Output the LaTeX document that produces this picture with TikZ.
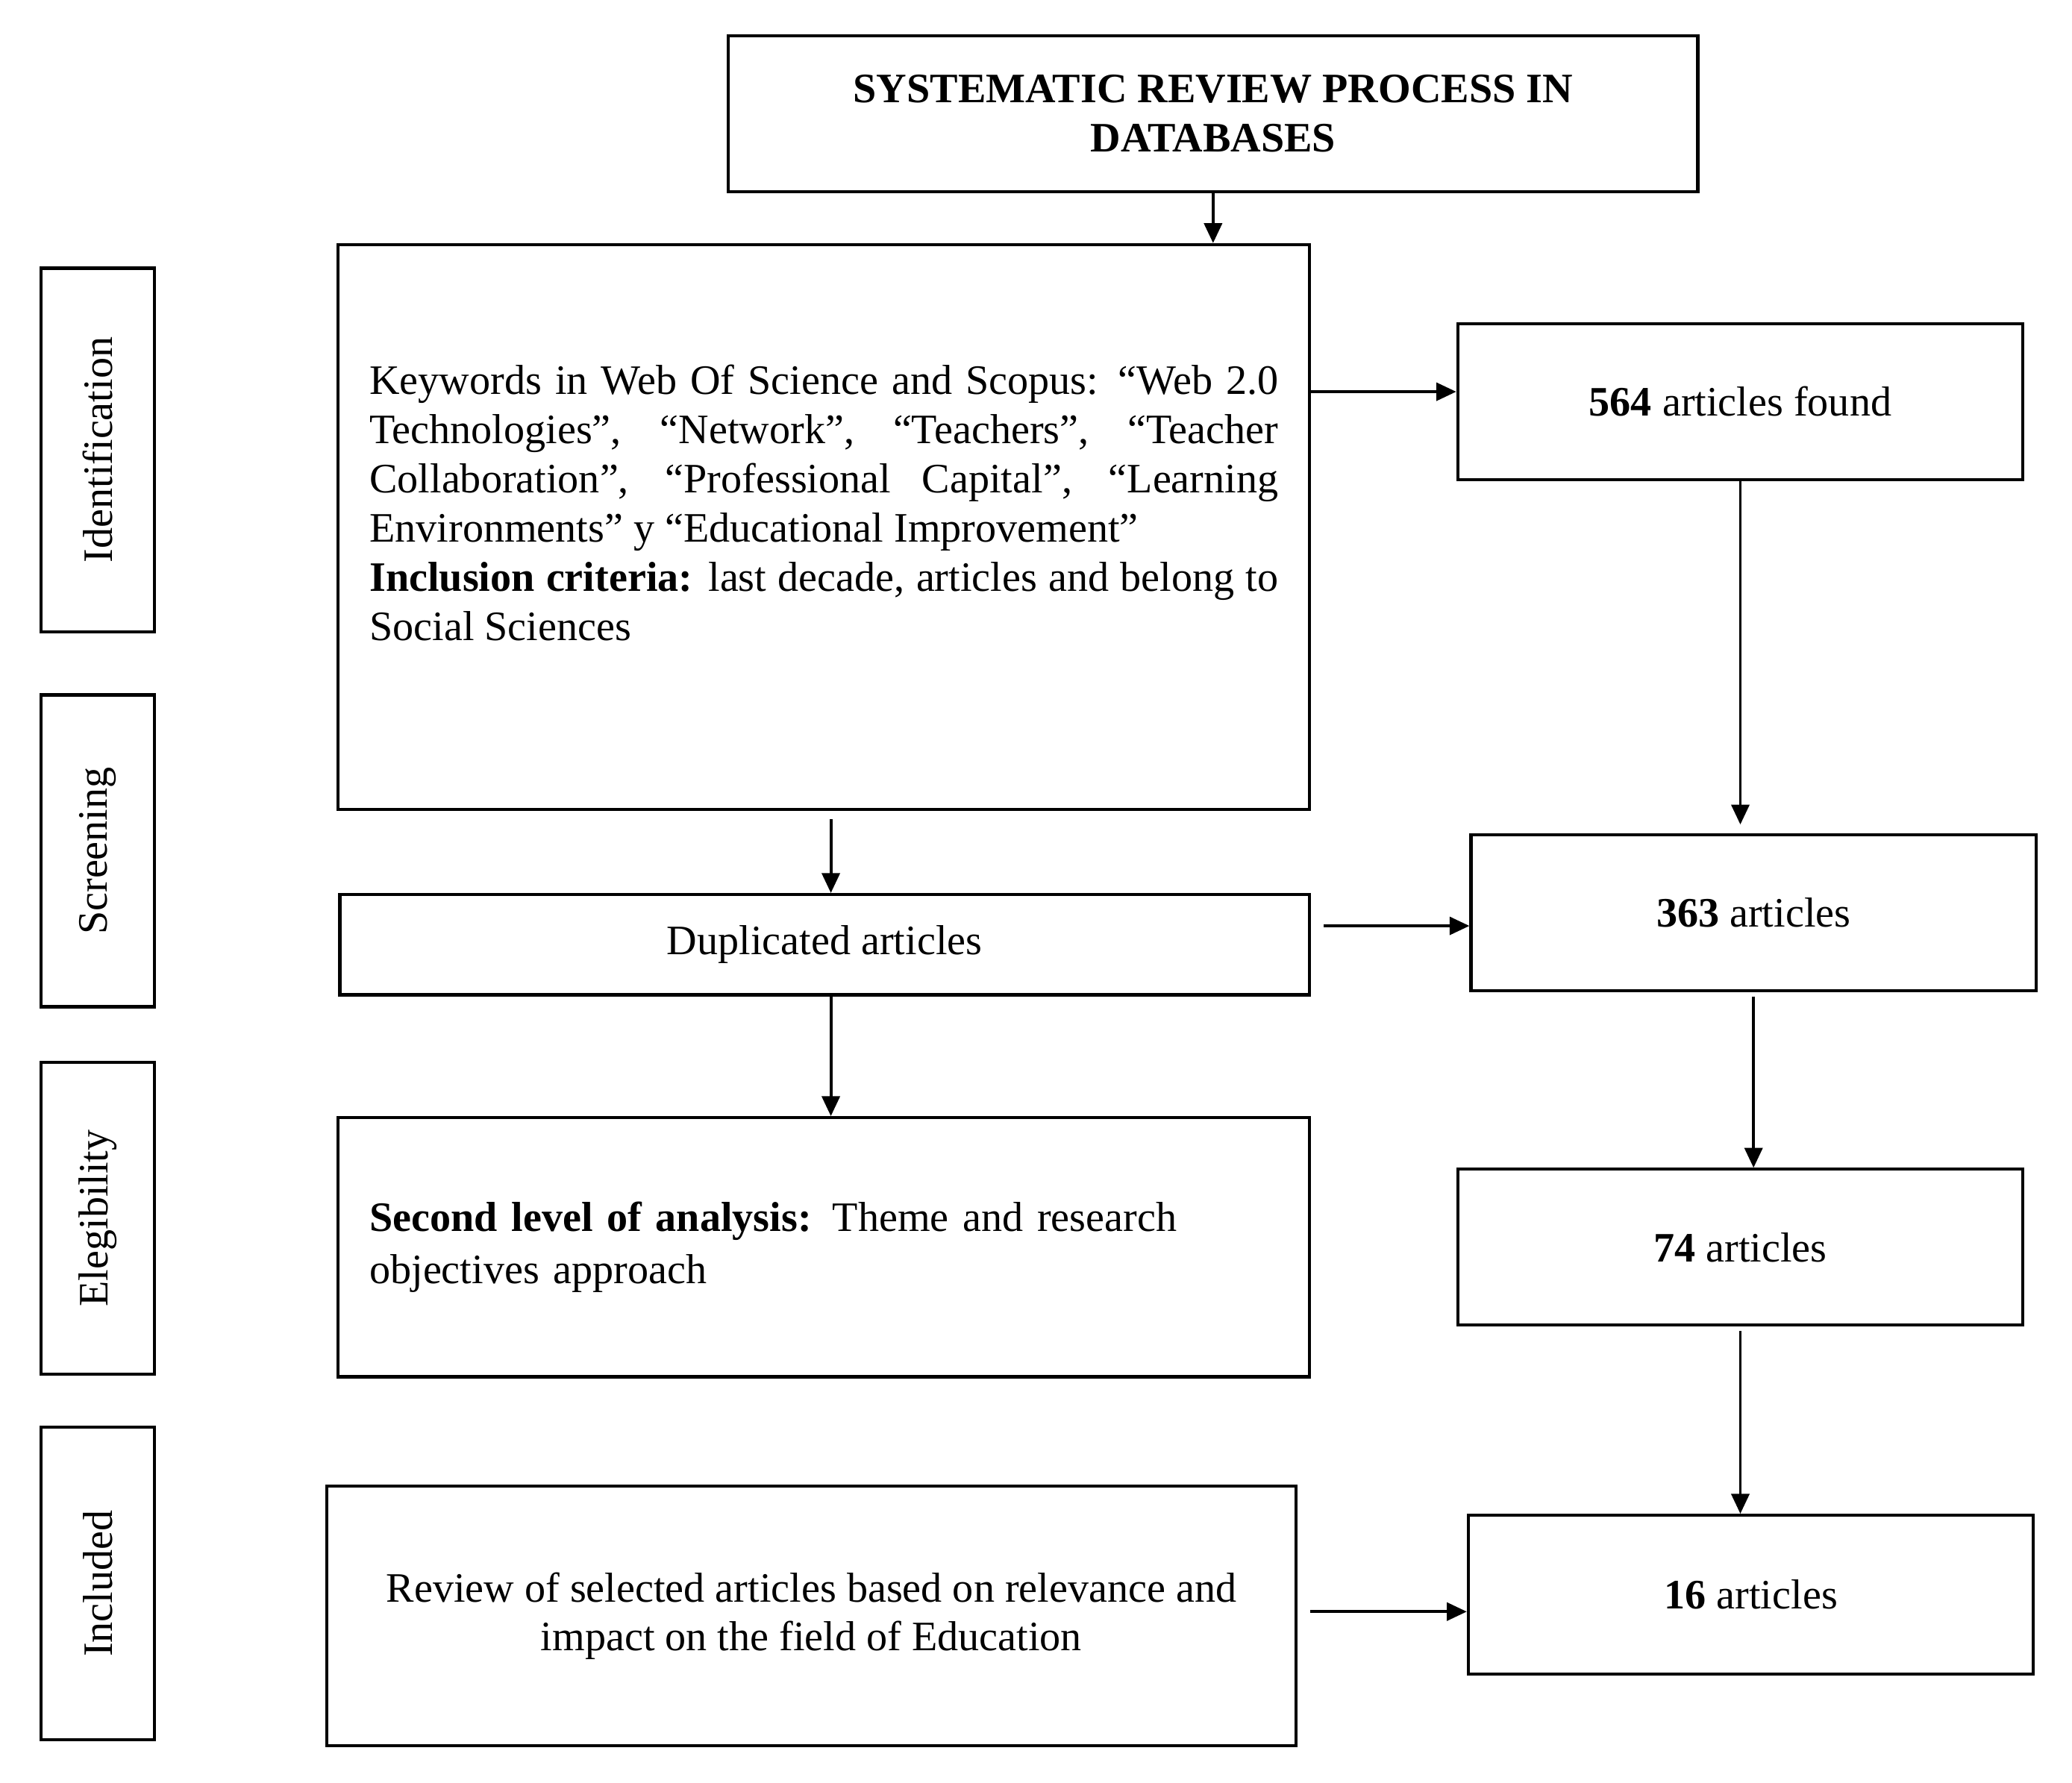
\documentclass[tikz,border=0pt]{standalone}
\usepackage{fontspec}
\setmainfont{Liberation Serif}
\usetikzlibrary{arrows.meta,positioning}
\tikzset{
  blk/.style={draw,rectangle,line width=0.9pt,align=center,font=\fontsize{12}{14}\selectfont},
  cntblk/.style={blk,minimum width=5.69cm,minimum height=1.57cm},
  stageblk/.style={blk,rotate=90,minimum height=1.14cm},
  arr/.style={-{Triangle[length=2mm,width=1.8mm]},line width=0.85pt}
}
\begin{document}
\begin{tikzpicture}[x=0.0133cm,y=-0.0133cm]
  \useasboundingbox (0,0) rectangle (1568,1349);

  \node[blk,minimum width=9.76cm,minimum height=1.57cm,font=\bfseries\fontsize{12}{14}\selectfont] (title) at (918,86) {SYSTEMATIC REVIEW PROCESS IN\\DATABASES};
  \node[blk,minimum width=9.78cm,minimum height=5.69cm,text width=9.15cm,align=justify,font=\fontsize{12}{14.1}\selectfont] (kw) at (623.5,399)
    {Keywords in Web Of Science and Scopus: “Web 2.0\linebreak Technologies”, “Network”, “Teachers”, “Teacher\linebreak Collaboration”, “Professional Capital”, “Learning\linebreak Environments” y “Educational Improvement”\\\textbf{Inclusion criteria:} last decade, articles and belong to\linebreak Social Sciences\\\rule{0pt}{0pt}};
  \node[cntblk] (n564) at (1317,304) {\textbf{564} articles found};
  \node[cntblk] (n363) at (1327,691) {\textbf{363} articles};
  \node[blk,minimum width=9.76cm,minimum height=1.01cm] (dup) at (624,715) {Duplicated articles};
  \node[blk,minimum width=9.78cm,minimum height=2.61cm,text width=9.15cm,align=left,font=\fontsize{12}{15}\selectfont] (lvl) at (623.5,944)
    {\textbf{Second level of analysis:} Theme and research\\objectives approach};
  \node[cntblk] (n74) at (1317,944) {\textbf{74} articles};
  \node[cntblk,minimum height=1.6cm] (n16) at (1325,1207) {\textbf{16} articles};
  \node[blk,minimum width=9.76cm,minimum height=2.61cm] (rev) at (614,1223)
    {Review of selected articles based on relevance and\\impact on the field of Education};

  \node[stageblk,minimum width=3.66cm] (ident) at (74,340.5) {Identification};
  \node[stageblk,minimum width=3.14cm] (scr) at (74,644) {Screening};
  \node[stageblk,minimum width=3.14cm] (elig) at (74,922) {Elegibility};
  \node[stageblk,minimum width=3.15cm] (incl) at (74,1198.5) {Included};

  \path ([yshift=1mm]n564.west) coordinate (in564);
  \path ([yshift=-1.3mm]n363.west) coordinate (in363);
  \path ([yshift=-1.7mm]n16.west) coordinate (in16);
  \path ([xshift=0.7mm]kw.south) coordinate (outkw);

  \draw[arr] (title.south) -- (title.south |- kw.north);
  \draw[arr] (kw.east |- in564) -- (in564);
  \draw[arr,shorten >=0.9mm] (n564.south) -- (n564.south |- n363.north);
  \draw[arr,shorten <=0.8mm] (outkw) -- (outkw |- dup.north);
  \draw[arr,shorten <=1.3mm] (dup.east |- in363) -- (in363);
  \draw[arr] (outkw |- dup.south) -- (outkw |- lvl.north);
  \draw[arr,shorten <=0.4mm] (n363.south) -- (n363.south |- n74.north);
  \draw[arr,shorten <=0.4mm] (n74.south) -- (n74.south |- n16.north);
  \draw[arr,shorten <=1.3mm] (rev.east |- in16) -- (in16);
\end{tikzpicture}
\end{document}
